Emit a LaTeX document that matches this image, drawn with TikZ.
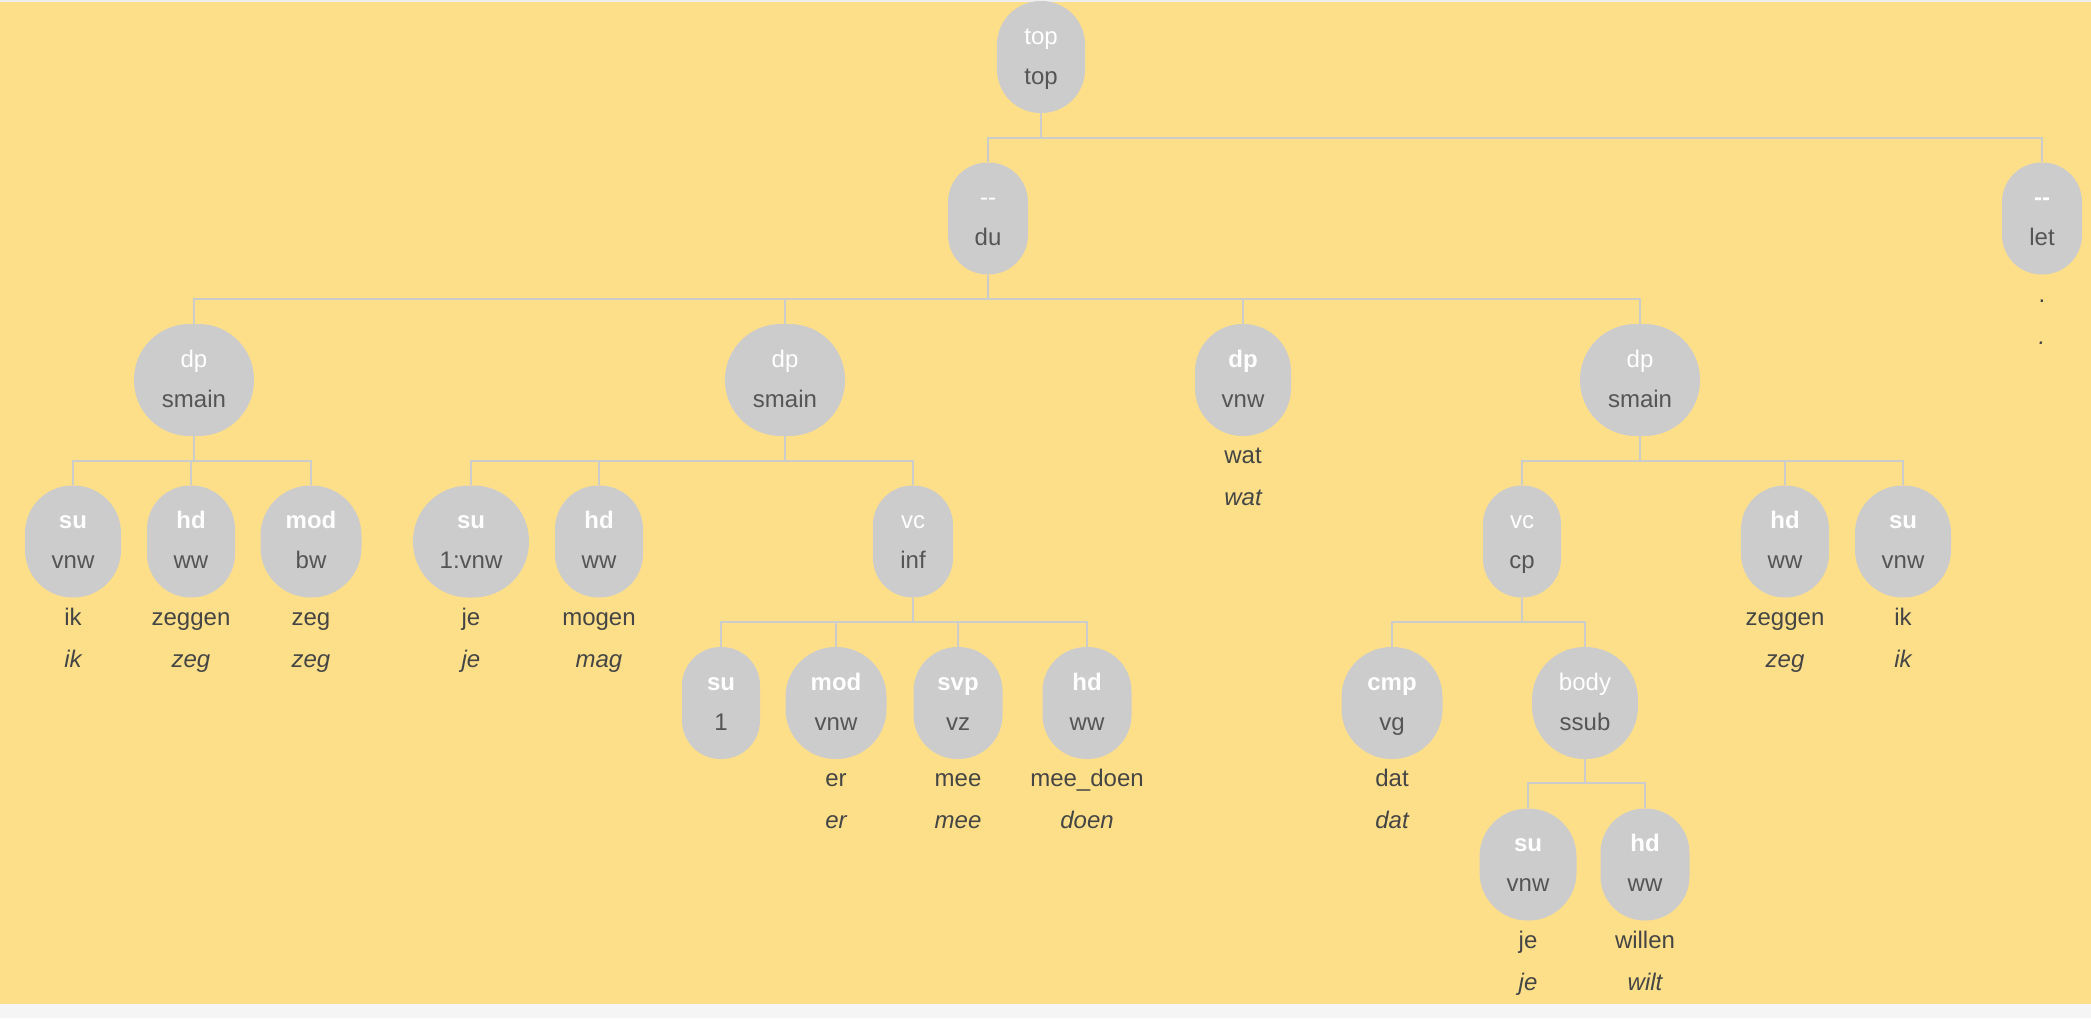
\documentclass[tikz,border=0pt]{standalone}
\usepackage{fontspec}
\setmainfont{Liberation Sans}
\definecolor{bgyellow}{RGB}{254,223,137}
\definecolor{ngray}{HTML}{CCCCCC}
\definecolor{catgray}{HTML}{555555}
\definecolor{wordgray}{HTML}{454545}
\definecolor{footgray}{HTML}{F5F5F5}
\definecolor{topline}{HTML}{EEEEEE}
\newcommand\rl[1]{\textcolor{white}{\rule{0pt}{20pt}#1}}
\newcommand\rlb[1]{\textcolor{white}{\rule{0pt}{20pt}\bfseries #1}}
\newcommand\ct[1]{\textcolor{catgray}{#1\rule[-6pt]{0pt}{6pt}}}
\newcommand\leaf[4]{%
  \node[wd] (#1w) at ([yshift=-83.5pt]#2.center) {#3};
  \node[wd] (#1l) at ([yshift=-125.5pt]#2.center) {\itshape #4};}
\begin{document}
\begin{tikzpicture}[x=1pt,y=-1pt,
  tn/.style={fill=ngray, draw=none, inner sep=0pt, minimum width=#1pt,
    minimum height=112pt, rounded corners={min(#1,112)/2-0.5},
    align=center, font=\fontsize{24}{40}\selectfont},
  wd/.style={anchor=base, inner sep=0pt, text=wordgray,
    font=\fontsize{24}{29}\selectfont},
  conn/.style={draw=ngray, line width=1.5pt}]
\useasboundingbox (0,0) rectangle (2091,1018);
\fill[bgyellow] (0,0) rectangle (2091,1018);
\fill[footgray] (0,1003.5) rectangle (2091,1018);
\fill[topline] (0,0) rectangle (2091,1.5);

% bars
\coordinate (y1) at (0,138);
\coordinate (y2) at (0,299);
\coordinate (y3) at (0,461);
\coordinate (y4) at (0,622);
\coordinate (y5) at (0,783);

% level 0
\node[tn=88] (top) at (1041,57) {\rl{top}\\\ct{top}};
% level 1
\node[tn=80] (du) at (988,218.5) {\rl{-{}-}\\\ct{du}};
\node[tn=80] (let) at (2042,218.5) {\rlb{-{}-}\\\ct{let}};
% level 2
\node[tn=120] (dpA) at (194,380) {\rl{dp}\\\ct{smain}};
\node[tn=120] (dpB) at (785,380) {\rl{dp}\\\ct{smain}};
\node[tn=96]  (dpC) at (1243,380) {\rlb{dp}\\\ct{vnw}};
\node[tn=120] (dpD) at (1640,380) {\rl{dp}\\\ct{smain}};
% level 3
\node[tn=96]  (a1) at (73,541.5) {\rlb{su}\\\ct{vnw}};
\node[tn=88]  (a2) at (191,541.5) {\rlb{hd}\\\ct{ww}};
\node[tn=101] (a3) at (311,541.5) {\rlb{mod}\\\ct{bw}};
\node[tn=116] (b1) at (471,541.5) {\rlb{su}\\\ct{1:vnw}};
\node[tn=88]  (b2) at (599,541.5) {\rlb{hd}\\\ct{ww}};
\node[tn=80]  (b3) at (913,541.5) {\rl{vc}\\\ct{inf}};
\node[tn=78]  (d1) at (1522,541.5) {\rl{vc}\\\ct{cp}};
\node[tn=88]  (d2) at (1785,541.5) {\rlb{hd}\\\ct{ww}};
\node[tn=96]  (d3) at (1903,541.5) {\rlb{su}\\\ct{vnw}};
% level 4
\node[tn=78]  (c1) at (721,703) {\rlb{su}\\\ct{1}};
\node[tn=101] (c2) at (836,703) {\rlb{mod}\\\ct{vnw}};
\node[tn=89]  (c3) at (958,703) {\rlb{svp}\\\ct{vz}};
\node[tn=89]  (c4) at (1087,703) {\rlb{hd}\\\ct{ww}};
\node[tn=101] (e1) at (1392,703) {\rlb{cmp}\\\ct{vg}};
\node[tn=106] (e2) at (1585,703) {\rl{body}\\\ct{ssub}};
% level 5
\node[tn=97]  (f1) at (1528,864.5) {\rlb{su}\\\ct{vnw}};
\node[tn=89]  (f2) at (1645,864.5) {\rlb{hd}\\\ct{ww}};

% leaves
\leaf{let}{let}{.}{.}
\leaf{dpC}{dpC}{wat}{wat}
\leaf{a1}{a1}{ik}{ik}
\leaf{a2}{a2}{zeggen}{zeg}
\leaf{a3}{a3}{zeg}{zeg}
\leaf{b1}{b1}{je}{je}
\leaf{b2}{b2}{mogen}{mag}
\leaf{d2}{d2}{zeggen}{zeg}
\leaf{d3}{d3}{ik}{ik}
\leaf{c2}{c2}{er}{er}
\leaf{c3}{c3}{mee}{mee}
\leaf{c4}{c4}{mee\_doen}{doen}
\leaf{e1}{e1}{dat}{dat}
\leaf{f1}{f1}{je}{je}
\leaf{f2}{f2}{willen}{wilt}

% connectors
\foreach \c in {du,let} \draw[conn] (top.south) -- (top.south |- y1) -| (\c.north);
\foreach \c in {dpA,dpB,dpC,dpD} \draw[conn] (du.south) -- (du.south |- y2) -| (\c.north);
\foreach \c in {a1,a2,a3} \draw[conn] (dpA.south) -- (dpA.south |- y3) -| (\c.north);
\foreach \c in {b1,b2,b3} \draw[conn] (dpB.south) -- (dpB.south |- y3) -| (\c.north);
\foreach \c in {d1,d2,d3} \draw[conn] (dpD.south) -- (dpD.south |- y3) -| (\c.north);
\foreach \c in {c1,c2,c3,c4} \draw[conn] (b3.south) -- (b3.south |- y4) -| (\c.north);
\foreach \c in {e1,e2} \draw[conn] (d1.south) -- (d1.south |- y4) -| (\c.north);
\foreach \c in {f1,f2} \draw[conn] (e2.south) -- (e2.south |- y5) -| (\c.north);
\end{tikzpicture}
\end{document}
